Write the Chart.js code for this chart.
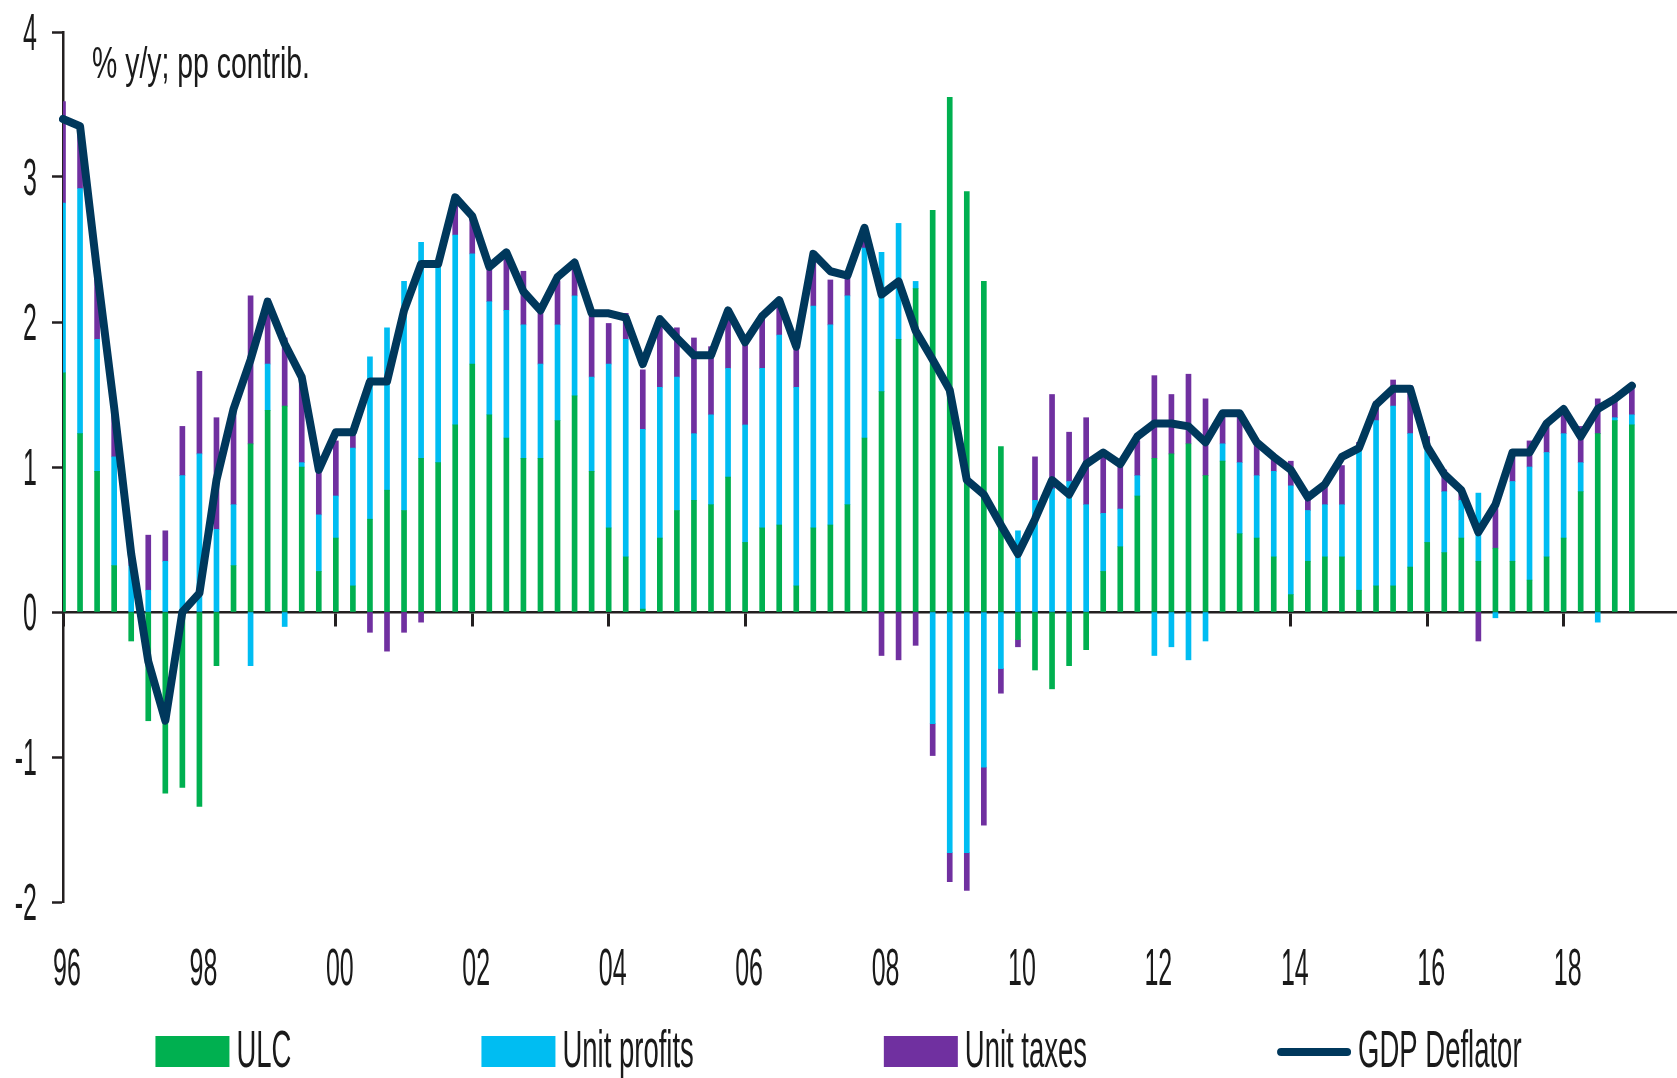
<!DOCTYPE html>
<html>
<head>
<meta charset="utf-8">
<script src="https://cdn.jsdelivr.net/npm/chart.js@4.4.1/dist/chart.umd.min.js"></script>
<style>
  html, body { margin: 0; padding: 0; background: #fff; overflow: hidden; }
  #wrap { width: 1677px; height: 1078px; overflow: hidden; }
  #chart { display: block; }
</style>
</head>
<body>
<div id="wrap"><canvas id="chart" width="1683" height="1078"></canvas></div>
<script>
// quarters 1996Q1 .. 2019Q4 (data runs to 2019Q1)
var years = [1996, 1997, 1998, 1999, 2000, 2001, 2002, 2003, 2004, 2005, 2006, 2007,
             2008, 2009, 2010, 2011, 2012, 2013, 2014, 2015, 2016, 2017, 2018, 2019];
var quarters = [];
years.forEach(function (y) {
    ['Q1', 'Q2', 'Q3', 'Q4'].forEach(function (q) { quarters.push(y + q); });
});

var xTickLabels = ['96', '98', '00', '02', '04', '06', '08', '10', '12', '14', '16', '18'];
var yTickValues = [-2, -1, 0, 1, 2, 3, 4];

var ulc = [
    1.65, 1.23, 0.97, 0.32, -0.20, -0.75, -1.25, -1.21, -1.34, -0.37, 0.32, 1.16,
    1.39, 1.42, 1.00, 0.28, 0.51, 0.18, 0.64, 0.84, 0.70, 1.06, 1.03, 1.29,
    1.71, 1.36, 1.20, 1.06, 1.06, 1.32, 1.49, 0.97, 0.58, 0.38, 0.02, 0.51,
    0.70, 0.77, 0.74, 0.93, 0.48, 0.58, 0.60, 0.18, 0.58, 0.60, 0.74, 1.20,
    1.52, 1.88, 2.23, 2.77, 3.55, 2.90, 2.28, 1.14, -0.19, -0.40, -0.53, -0.37,
    -0.26, 0.28, 0.45, 0.80, 1.06, 1.09, 1.16, 0.94, 1.04, 0.54, 0.51, 0.38,
    0.12, 0.35, 0.38, 0.38, 0.15, 0.18, 0.18, 0.31, 0.48, 0.41, 0.51, 0.35,
    0.44, 0.35, 0.22, 0.38, 0.51, 0.83, 1.23, 1.32, 1.29
];
var unitProfits = [
    1.17, 1.69, 0.91, 0.75, 0.32, 0.15, 0.35, 0.94, 1.09, 0.57, 0.42, -0.37,
    0.32, -0.10, 0.03, 0.39, 0.29, 0.95, 1.12, 1.12, 1.58, 1.49, 1.35, 1.31,
    0.76, 0.78, 0.88, 0.92, 0.65, 0.66, 0.69, 0.65, 1.13, 1.50, 1.24, 1.04,
    0.92, 0.46, 0.62, 0.75, 0.81, 1.10, 1.31, 1.37, 1.53, 1.38, 1.44, 1.31,
    0.96, 0.80, 0.05, -0.77, -1.66, -1.66, -1.07, -0.39, 0.56, 0.77, 0.85, 0.90,
    0.74, 0.40, 0.26, 0.14, -0.30, -0.24, -0.33, -0.20, 0.12, 0.49, 0.43, 0.59,
    0.75, 0.35, 0.36, 0.36, 0.98, 1.14, 1.24, 0.92, 0.65, 0.42, 0.26, 0.47,
    -0.04, 0.55, 0.78, 0.72, 0.72, 0.20, -0.07, 0.02, 0.07
];
var unitTaxes = [
    0.70, 0.43, 0.50, 0.33, 0.06, 0.38, 0.21, 0.34, 0.57, 0.77, 0.67, 1.02,
    0.45, 0.47, 0.54, 0.31, 0.38, 0.11, -0.14, -0.27, -0.14, -0.07, 0.02, 0.21,
    0.26, 0.25, 0.40, 0.37, 0.37, 0.30, 0.21, 0.44, 0.28, 0.18, 0.41, 0.43,
    0.34, 0.66, 0.47, 0.40, 0.57, 0.36, 0.23, 0.28, 0.35, 0.31, 0.15, 0.14,
    -0.30, -0.33, -0.23, -0.22, -0.20, -0.26, -0.40, -0.17, -0.05, 0.30, 0.65, 0.34,
    0.60, 0.41, 0.31, 0.24, 0.57, 0.41, 0.48, 0.53, 0.20, 0.33, 0.23, 0.10,
    0.17, 0.10, 0.14, 0.27, 0.04, 0.13, 0.18, 0.33, 0.08, 0.15, 0.04, -0.20,
    0.30, 0.20, 0.18, 0.19, 0.14, 0.25, 0.24, 0.15, 0.20
];
var gdpDeflator = [
    3.40, 3.35, 2.35, 1.41, 0.40, -0.34, -0.75, 0.00, 0.13, 0.91, 1.40, 1.74,
    2.14, 1.85, 1.62, 0.98, 1.24, 1.24, 1.59, 1.59, 2.08, 2.40, 2.40, 2.86,
    2.73, 2.38, 2.48, 2.21, 2.08, 2.31, 2.41, 2.06, 2.06, 2.03, 1.71, 2.02,
    1.89, 1.77, 1.77, 2.08, 1.86, 2.04, 2.15, 1.83, 2.47, 2.35, 2.32, 2.65,
    2.19, 2.28, 1.94, 1.74, 1.53, 0.91, 0.81, 0.60, 0.40, 0.64, 0.91, 0.81,
    1.02, 1.10, 1.02, 1.21, 1.30, 1.30, 1.28, 1.17, 1.37, 1.37, 1.17, 1.07,
    0.98, 0.79, 0.88, 1.07, 1.13, 1.43, 1.54, 1.54, 1.14, 0.95, 0.84, 0.55,
    0.74, 1.10, 1.10, 1.30, 1.40, 1.21, 1.40, 1.47, 1.56
];

var axisColor = '#231f20';
var textColor = '#1a1a1a';
var fontFamily = '"Liberation Sans Narrow", "Liberation Sans", Arial, sans-serif';
var pageWidth = 1677;

function xTickText(i) {
    var q = quarters[i];
    if (!q || q.slice(4) !== 'Q1') return null;
    var yy = q.slice(2, 4);
    return xTickLabels.indexOf(yy) >= 0 ? yy : null;
}

// condensed text: draw with a horizontal squeeze like the original
function squeezed(ctx, text, x, y, size, sx, align) {
    ctx.save();
    ctx.font = size + 'px ' + fontFamily;
    ctx.fillStyle = textColor;
    ctx.textBaseline = 'alphabetic';
    ctx.textAlign = align;
    ctx.translate(x, y);
    ctx.scale(sx, 1);
    ctx.fillText(text, 0, 0);
    ctx.restore();
}

var textLayer = {
    id: 'textLayer',
    afterDraw: function (chart) {
        var ctx = chart.ctx;
        var area = chart.chartArea;
        var xs = chart.scales.x, ys = chart.scales.y;

        var size = 51;
        ctx.save();
        ctx.font = size + 'px ' + fontFamily;
        var sx = 13.9 / (ctx.measureText('0123456789').width / 10);
        ctx.restore();

        // y tick labels
        ys.ticks.forEach(function (t) {
            var py = ys.getPixelForValue(t.value);
            squeezed(ctx, String(t.value), 37, py + 18, size, sx, 'right');
        });

        // x tick labels
        for (var i = 0; i < quarters.length; i++) {
            var lab = xTickText(i);
            if (lab) squeezed(ctx, lab, xs.getPixelForValue(i) + 4, 985, size, sx, 'center');
        }

        // unit note
        var note = '% y/y; pp contrib.';
        ctx.save();
        ctx.font = '44px ' + fontFamily;
        var nsx = 218 / ctx.measureText(note).width;
        ctx.restore();
        squeezed(ctx, note, area.left + 29, 78, 44, nsx, 'left');

        // legend
        var lsx = sx * 1.1;
        var boxW = 74, boxH = 31, gapText = 7, gapItem = 190;
        var items = chart.data.datasets.map(function (ds) {
            ctx.save();
            ctx.font = size + 'px ' + fontFamily;
            var w = ctx.measureText(ds.label).width * lsx;
            ctx.restore();
            return { ds: ds, w: w };
        });
        var total = 0;
        items.forEach(function (it, k) { total += boxW + gapText + it.w + (k ? gapItem : 0); });
        var lx = (pageWidth - total) / 2;
        var baseY = 1067;
        items.forEach(function (it) {
            var ds = it.ds;
            ctx.save();
            if (ds.type === 'line') {
                ctx.strokeStyle = ds.borderColor;
                ctx.lineWidth = 8;
                ctx.lineCap = 'round';
                ctx.beginPath();
                ctx.moveTo(lx + 4, baseY - 15);
                ctx.lineTo(lx + boxW - 4, baseY - 15);
                ctx.stroke();
            } else {
                ctx.fillStyle = ds.backgroundColor;
                ctx.fillRect(lx, baseY - boxH, boxW, boxH);
            }
            ctx.restore();
            squeezed(ctx, ds.label, lx + boxW + gapText, baseY, size, lsx, 'left');
            lx += boxW + gapText + it.w + gapItem;
        });
    }
};

var barCommon = { barThickness: 5, borderWidth: 0, stack: 'contrib', order: 1 };

var chart = new Chart(document.getElementById('chart'), {
    type: 'bar',
    data: {
        labels: quarters,
        datasets: [
            Object.assign({ label: 'ULC', data: ulc, backgroundColor: '#00B050' }, barCommon),
            Object.assign({ label: 'Unit profits', data: unitProfits, backgroundColor: '#00BDF2' }, barCommon),
            Object.assign({ label: 'Unit taxes', data: unitTaxes, backgroundColor: '#7030A0' }, barCommon),
            {
                type: 'line',
                label: 'GDP Deflator',
                data: gdpDeflator,
                borderColor: '#00385C',
                backgroundColor: '#00385C',
                borderWidth: 8,
                borderJoinStyle: 'round',
                borderCapStyle: 'round',
                pointRadius: 0,
                tension: 0,
                stack: 'line',
                order: 0
            }
        ]
    },
    options: {
        responsive: false,
        animation: false,
        devicePixelRatio: 1,
        layout: { padding: { top: 32, right: 0, left: 0, bottom: 0 } },
        plugins: {
            legend: { display: false },
            tooltip: { enabled: false }
        },
        scales: {
            x: {
                type: 'category',
                stacked: true,
                offset: false,
                grid: { display: false, offset: false },
                border: { display: false },
                ticks: { display: false },
                afterFit: function (scale) { scale.height = 176; }
            },
            xZero: {
                type: 'category',
                position: { y: 0 },
                offset: false,
                grid: {
                    offset: false,
                    drawOnChartArea: false,
                    drawTicks: true,
                    tickLength: 13,
                    tickWidth: 3,
                    tickColor: function (c) { return xTickText(c.index) ? axisColor : 'rgba(0,0,0,0)'; }
                },
                border: { display: true, color: axisColor, width: 2.5 },
                ticks: { display: false }
            },
            y: {
                stacked: true,
                min: -2,
                max: 4,
                afterBuildTicks: function (scale) {
                    scale.ticks = yTickValues.map(function (v) { return { value: v }; });
                },
                grid: {
                    drawOnChartArea: false,
                    drawTicks: true,
                    tickLength: 11,
                    tickWidth: 2.5,
                    tickColor: axisColor
                },
                border: { display: true, color: axisColor, width: 2.5 },
                ticks: { display: false },
                afterFit: function (scale) { scale.width = 63; }
            }
        }
    },
    plugins: [textLayer]
});
</script>
</body>
</html>
